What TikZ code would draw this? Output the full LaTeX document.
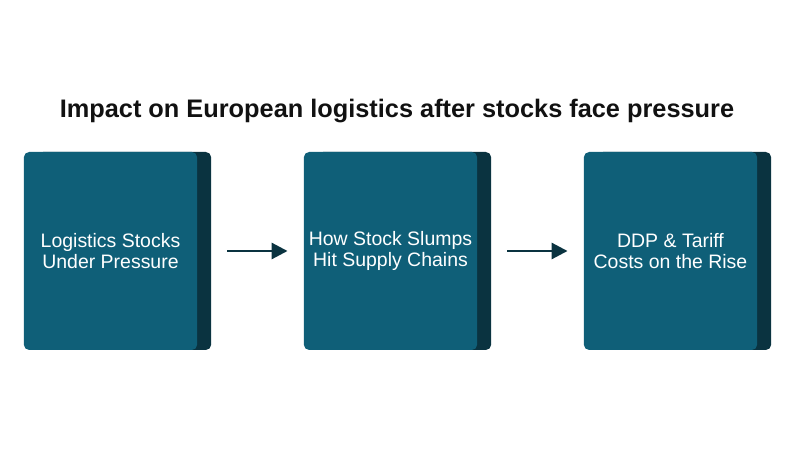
\documentclass[tikz,border=0pt]{standalone}
\usepackage{fontspec}
\setmainfont{Liberation Sans}
\usetikzlibrary{arrows.meta}
\definecolor{tealbox}{HTML}{0F5F78}
\definecolor{tealdark}{HTML}{0A3340}
\definecolor{titleink}{HTML}{111111}
\begin{document}
\begin{tikzpicture}[x=0.75pt,y=-0.75pt,
  card/.style={fill=tealbox,rounded corners=4pt,minimum width=130pt,minimum height=148.5pt,inner sep=0pt,align=center,text=white,font=\fontsize{14.6}{16}\selectfont},
  back/.style={fill=tealdark,rounded corners=4pt,minimum width=130pt,minimum height=148.5pt,inner sep=0pt},
  link/.style={-{Triangle[length=12pt,width=12pt]},line width=2.2pt,draw=tealdark}]
\useasboundingbox (0,0) rectangle (794,456);
\node[font=\bfseries\fontsize{19}{22}\selectfont,text=titleink] (title) at (397,111) {Impact on European logistics after stocks face pressure};
% the three cards, each with its dark edge behind
\node[back] (s1) at (124.5,251) {};
\node[card] (b1) at (110.5,251) {Logistics Stocks\\Under Pressure};
\node[back] (s2) at (404.5,251) {};
\node[card] (b2) at (390.5,251) {How Stock Slumps\\Hit Supply Chains};
\node[back] (s3) at (684.5,251) {};
\node[card] (b3) at (670.5,251) {DDP \& Tariff\\Costs on the Rise};
\draw[link] ([xshift=12pt]s1.east) -- ([xshift=-12pt]b2.west);
\draw[link] ([xshift=12pt]s2.east) -- ([xshift=-12pt]b3.west);
\end{tikzpicture}
\end{document}
